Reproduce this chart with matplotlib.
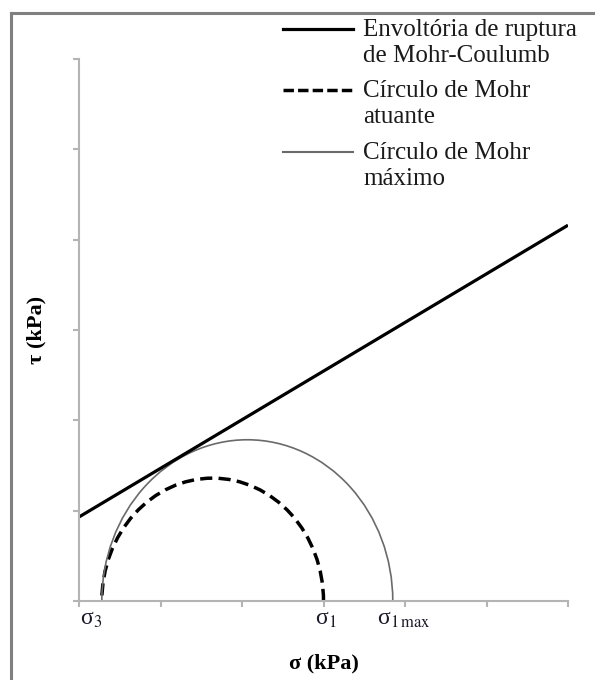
import matplotlib
matplotlib.use("Agg")
import matplotlib.pyplot as plt
from matplotlib.patches import Arc
from matplotlib.lines import Line2D

plt.rcParams['font.family'] = ['Liberation Serif', 'DejaVu Serif']
plt.rcParams['mathtext.fontset'] = 'stix'

# data (kPa, arbitrary units)
x_ticks = [0, 1, 2, 3, 4, 5, 6]
y_ticks = [0, 1, 2, 3, 4, 5, 6]
sigma3 = 0.28
sigma1 = 3.0
sigma1max = 3.85
env_x = [0, 6]
env_y = [0.93, 4.16]
sig_labels = ['σ$_3$', 'σ$_1$', 'σ$_{1\\,\\mathrm{max}}$']
sig_values = [sigma3, sigma1, sigma1max]
legend_labels = ["Envoltória de ruptura\nde Mohr-Coulumb",
                 "Círculo de Mohr\natuante",
                 "Círculo de Mohr\nmáximo"]

fig = plt.figure(figsize=(5.95, 6.80), dpi=100)
ax = fig.add_axes([79/595, 1-601/680, (568-79)/595, (601-59)/680])

ax.plot(env_x, env_y, color='black', lw=2.3, solid_capstyle='butt')

c_act = (sigma3 + sigma1) / 2
r_act = (sigma1 - sigma3) / 2
c_max = (sigma3 + sigma1max) / 2
r_max = (sigma1max - sigma3) / 2
ax.add_patch(Arc((c_act, 0), 2*r_act, 2*r_act, theta1=0, theta2=180,
                 color='black', lw=2.5, ls=(0, (3.5, 1.8))))
ax.add_patch(Arc((c_max, 0), 2*r_max, 2*r_max, theta1=0, theta2=180,
                 color='#6a6a6a', lw=1.2))

ax.set_xlim(0, 6)
ax.set_ylim(0, 6)
ax.set_xticks(x_ticks)
ax.set_yticks(y_ticks)
ax.set_xticklabels([])
ax.set_yticklabels([])
for s in ['top', 'right']:
    ax.spines[s].set_visible(False)
for s in ['left', 'bottom']:
    ax.spines[s].set_color('#b4b4b4')
    ax.spines[s].set_linewidth(1.5)
ax.tick_params(direction='out', length=4, width=1.5, color='#b4b4b4')

# sigma labels under the axis
offsets = [(-8, -13, 'center'), (2, -13, 'center'), (-11, -13, 'left')]
for lab, v, (dx, dy, ha) in zip(sig_labels, sig_values, offsets):
    ax.annotate(lab, xy=(v, 0), xytext=(dx, dy), textcoords='offset points',
                ha=ha, va='center', fontsize=17, color='#1a1a2a')

ax.set_xlabel('σ (kPa)', fontsize=16, fontweight='bold', labelpad=30)
ax.set_ylabel('τ (kPa)', fontsize=16, fontweight='bold', labelpad=16)

# legend drawn by hand (handle aligned to first text line)
handles = [dict(color='black', lw=2.3, ls='-'),
           dict(color='black', lw=2.5, ls=(0, (3, 1.2))),
           dict(color='#6a6a6a', lw=1.5, ls='-')]
rows = [29, 90, 152]
for lab, h, ypx in zip(legend_labels, handles, rows):
    yf = 1 - ypx/680
    fig.add_artist(Line2D([283/595, 353/595], [yf, yf], **h))
    fig.text(363/595, 1 - (ypx - 10)/680, lab, ha='left', va='top',
             fontsize=18, linespacing=1.25, color='#1a1a1a')

# outer frame of the picture
fc = '#808080'
fig.add_artist(Line2D([11/595, 11/595], [0, 1 - 13/680], color=fc, lw=2.2))
fig.add_artist(Line2D([11/595, 1], [1 - 13/680, 1 - 13/680], color=fc, lw=2.2))

fig.savefig('out.png', dpi=100)
